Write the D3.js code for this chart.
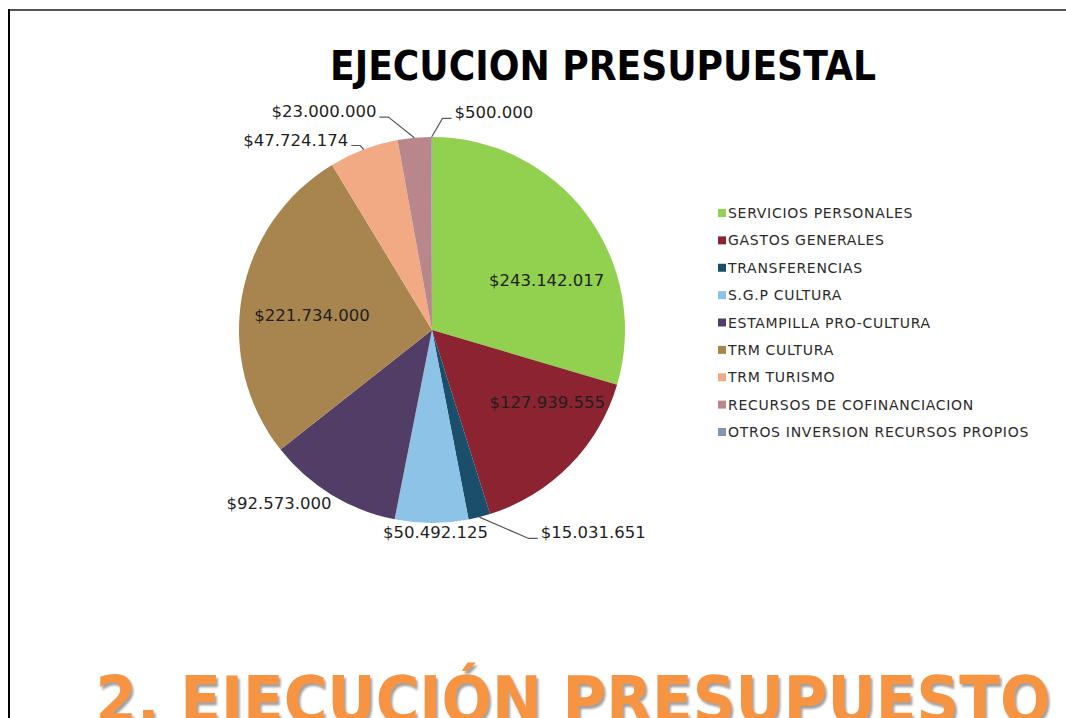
<!DOCTYPE html>
<html>
<head>
<meta charset="utf-8">
<script src="https://cdn.jsdelivr.net/npm/d3@7/dist/d3.min.js"></script>
<style>
  body { margin: 0; background: #fff; }
  svg { display: block; }
</style>
</head>
<body>
<div id="chartbox"></div>
<script>
var categories = [
  "SERVICIOS PERSONALES",
  "GASTOS GENERALES",
  "TRANSFERENCIAS",
  "S.G.P CULTURA",
  "ESTAMPILLA PRO-CULTURA",
  "TRM CULTURA",
  "TRM TURISMO",
  "RECURSOS DE COFINANCIACION",
  "OTROS INVERSION RECURSOS PROPIOS"
];
var values = [243142017, 127939555, 15031651, 50492125, 92573000, 221734000, 47724174, 23000000, 500000];
var colors = ["#92d050", "#8b2330", "#1b4e6b", "#8cc3e6", "#523d66", "#a8844e", "#f2aa84", "#b9868b", "#8497b0"];

// label placement: polar offset from the pie centre (degrees from top, px), leader yes/no
var labelAngle = [66.5, 122, 141.5, 179, 221.5, 277, 324.4, 333.7, 15.9];
var labelDist = [125, 136, 259, 202, 231, 121, 234, 244, 226];
var labelLeader = [false, false, true, false, false, false, true, true, true];

var W = 1066, H = 718;
var cx = 432, cy = 330, radius = 193;

var fmt = function (v) { return "$" + d3.format(",")(v).replace(/,/g, "."); };

var svg = d3.select('#chartbox').append('svg')
    .attr('width', W)
    .attr('height', H);

var defs = svg.append('defs');
defs.append('filter')
    .attr('id', 'shadow')
    .attr('x', '-5%').attr('y', '-20%').attr('width', '110%').attr('height', '140%')
  .append('feDropShadow')
    .attr('dx', 2).attr('dy', 3)
    .attr('stdDeviation', 1.2)
    .attr('flood-color', '#777')
    .attr('flood-opacity', 0.7);

// frame
svg.append('line').attr('x1', 9).attr('x2', W).attr('y1', 10).attr('y2', 10)
    .attr('stroke', '#555').attr('stroke-width', 2);
svg.append('line').attr('x1', 9).attr('x2', 9).attr('y1', 9).attr('y2', H)
    .attr('stroke', '#000').attr('stroke-width', 2);

svg.append('text')
    .attr('x', 603).attr('y', 80)
    .attr('text-anchor', 'middle')
    .attr('textLength', 546).attr('lengthAdjust', 'spacingAndGlyphs')
    .style('font-family', '"DejaVu Sans", sans-serif')
    .style('font-weight', 'bold')
    .style('font-size', '41px')
    .style('fill', '#000')
    .text('EJECUCION PRESUPUESTAL');

var data = categories.map(function (c, i) { return { key: c, value: values[i], i: i }; });

var pie = d3.pie().sort(null).value(d => d.value);
var arc = d3.arc().innerRadius(0).outerRadius(radius);
var arcs = pie(data);

var g = svg.append('g').attr('transform', 'translate(' + [cx, cy] + ')');

g.selectAll('path.slice')
    .data(arcs)
    .enter().append('path')
    .attr('class', 'slice')
    .attr('d', arc)
    .style('fill', d => colors[d.data.i]);

function polar(angDeg, r) {
  var a = angDeg * Math.PI / 180;
  return [r * Math.sin(a), -r * Math.cos(a)];
}

var labels = g.selectAll('text.lbl')
    .data(arcs)
    .enter().append('text')
    .attr('class', 'lbl')
    .attr('x', d => polar(labelAngle[d.data.i], labelDist[d.data.i])[0])
    .attr('y', d => polar(labelAngle[d.data.i], labelDist[d.data.i])[1])
    .attr('text-anchor', 'middle')
    .attr('dy', '0.35em')
    .style('font-family', '"DejaVu Sans", Verdana, sans-serif')
    .style('font-size', '16.5px')
    .style('fill', '#1f1f1f')
    .text(d => fmt(d.data.value));

// leader lines
labels.each(function (d) {
  var i = d.data.i;
  if (!labelLeader[i]) return;
  var bb = this.getBBox();
  var mid = (d.startAngle + d.endAngle) / 2 * 180 / Math.PI;
  var p0 = polar(mid, radius);
  var ly = bb.y + bb.height - 4;
  var left = (bb.x + bb.width / 2) > p0[0];
  var ex = left ? bb.x - 3 : bb.x + bb.width + 3;
  var bx = left ? ex - 9 : ex + 9;
  g.append('polyline')
      .attr('points', [p0, [bx, ly], [ex, ly]].map(p => p.join(',')).join(' '))
      .attr('fill', 'none')
      .attr('stroke', '#595959')
      .attr('stroke-width', 1.2);
});

// legend
var legY = d3.scalePoint().domain(categories).range([213, 432]);
var legend = svg.append('g');
var items = legend.selectAll('g')
    .data(data)
    .enter().append('g')
    .attr('transform', d => 'translate(718,' + legY(d.key) + ')');
items.append('rect')
    .attr('x', 0).attr('y', -4)
    .attr('width', 8).attr('height', 8)
    .style('fill', d => colors[d.i]);
items.append('text')
    .attr('x', 10).attr('y', 0)
    .attr('dy', '0.36em')
    .style('font-family', '"DejaVu Sans", Verdana, sans-serif')
    .style('font-size', '14px')
    .style('letter-spacing', '0.7px')
    .style('fill', '#2b2b2b')
    .text(d => d.key);

// section heading at the bottom (cut by the page edge, as in the slide)
svg.append('text')
    .attr('x', 573).attr('y', 722)
    .attr('text-anchor', 'middle')
    .attr('textLength', 955).attr('lengthAdjust', 'spacingAndGlyphs')
    .attr('filter', 'url(#shadow)')
    .style('font-family', '"DejaVu Sans", sans-serif')
    .style('font-weight', 'bold')
    .style('font-size', '64px')
    .style('fill', '#f79443')
    .text('2. EJECUCIÓN PRESUPUESTO');
</script>
</body>
</html>
